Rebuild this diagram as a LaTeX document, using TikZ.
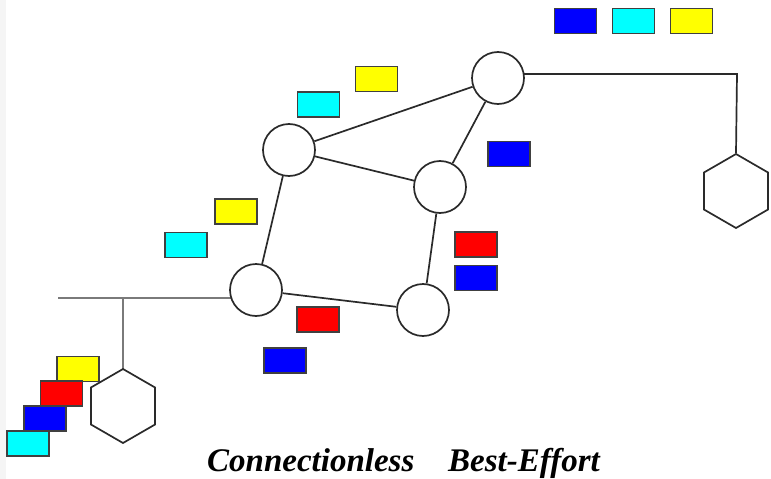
\documentclass[tikz,border=0pt]{standalone}
\usepackage{fontspec}
\setmainfont{Liberation Serif}
\usetikzlibrary{shapes.geometric,backgrounds}
\definecolor{pktblue}{HTML}{0000FF}
\definecolor{pktcyan}{HTML}{00FFFF}
\definecolor{pktyellow}{HTML}{FFFF00}
\definecolor{pktred}{HTML}{FF0000}
\definecolor{edgegray}{HTML}{2A2A2A}
\definecolor{busgray}{HTML}{7A7A7A}
\tikzset{
  router/.style={circle, draw=edgegray, line width=1.7pt, fill=white, minimum size=52pt, inner sep=0pt},
  host/.style={regular polygon, regular polygon sides=6, shape border rotate=30, draw=edgegray, line width=1.7pt, fill=white, minimum size=74pt, inner sep=0pt},
  link/.style={draw=edgegray, line width=1.7pt},
  bus/.style={draw=busgray, line width=2pt},
  packet/.style={rectangle, draw=black!75, line width=1.3pt, minimum width=42pt, minimum height=25pt, inner sep=0pt},
  caption/.style={font=\fontsize{33}{38}\selectfont\bfseries\itshape, anchor=base west, inner sep=0pt}
}
\begin{document}
\begin{tikzpicture}[x=1pt, y=-1pt]
  \useasboundingbox (0,0) rectangle (771,479);
  \fill[black!4] (0,0) rectangle (6,479);

  % routers
  \node[router] (A) at (498,78) {};
  \node[router] (B) at (289,150) {};
  \node[router] (C) at (440,187) {};
  \node[router] (D) at (256,290) {};
  \node[router] (E) at (423,310) {};

  % hosts
  \node[host] (hostL) at (123,406) {};
  \node[host] (hostR) at (736,191) {};

  % attachment points on the two access lines
  \coordinate (busL) at (58,298);
  \coordinate (dropL) at (123,298);
  \coordinate (busR) at (737,74);

  \begin{pgfonlayer}{background}
    \draw[bus] (busL) -- (D.center |- busL);
    \draw[bus] (dropL) -- ([yshift=-11pt]hostL.north);
    \draw[link] (A.center |- busR) -- (busR) -- (hostR.north);
  \end{pgfonlayer}

  % links between routers
  \draw[link] (B) -- (A);
  \draw[link] (B) -- (C);
  \draw[link] (A) -- (C);
  \draw[link] (B) -- (D);
  \draw[link] (C) -- (E);
  \draw[link] (D) -- (E);

  % packets
  \node[packet, fill=pktblue]   (p1)  at (575.5,21) {};
  \node[packet, fill=pktcyan]   (p2)  at (633.5,21) {};
  \node[packet, fill=pktyellow] (p3)  at (691.5,21) {};
  \node[packet, fill=pktyellow] (p4)  at (376.5,79) {};
  \node[packet, fill=pktcyan]   (p5)  at (318.5,104.5) {};
  \node[packet, fill=pktblue]   (p6)  at (509,154) {};
  \node[packet, fill=pktyellow] (p7)  at (236,211.5) {};
  \node[packet, fill=pktcyan]   (p8)  at (186,245) {};
  \node[packet, fill=pktred]    (p9)  at (476,244.5) {};
  \node[packet, fill=pktblue]   (p10) at (476,278) {};
  \node[packet, fill=pktred]    (p11) at (318,319.5) {};
  \node[packet, fill=pktblue]   (p12) at (285,360.5) {};
  \node[packet, fill=pktyellow] (p13) at (78,369) {};
  \node[packet, fill=pktred]    (p14) at (61.5,393.5) {};
  \node[packet, fill=pktblue]   (p15) at (45,418.5) {};
  \node[packet, fill=pktcyan]   (p16) at (28,443.5) {};

  % caption
  \node[caption] (cap1) at (207,471) {Connectionless};
  \node[caption] (cap2) at (448,471) {Best-Effort};
\end{tikzpicture}
\end{document}
